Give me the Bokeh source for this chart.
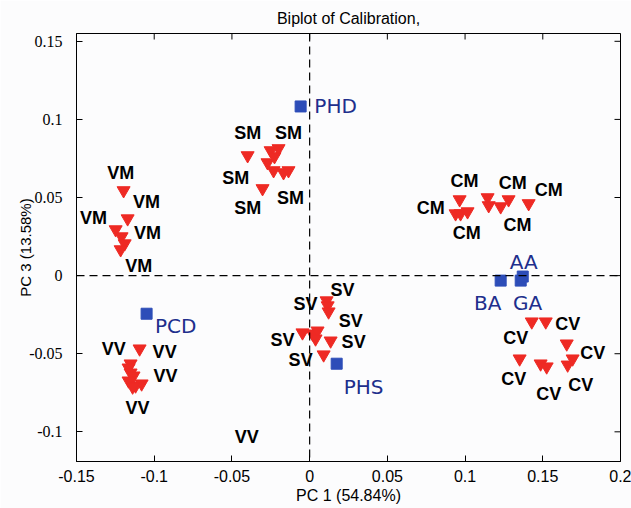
import math
from bokeh.plotting import figure
from bokeh.models import LinearAxis, FixedTicker, Span, ColumnDataSource, Range1d
from bokeh.core.properties import value
from bokeh.embed import file_html
from bokeh.resources import INLINE

# ---- data ----
vm_x = [-0.1197, -0.1171, -0.1248, -0.1210, -0.1190, -0.1216]
vm_y = [0.0545, 0.0365, 0.0295, 0.0250, 0.0205, 0.0167]
vm_lx = [-0.1216, -0.1049, -0.1390, -0.1043, -0.1100]
vm_ly = [0.0654, 0.0474, 0.0372, 0.0276, 0.0064]

sm_x = [-0.0399, -0.0251, -0.0200, -0.0271, -0.0232, -0.0168, -0.0136, -0.0303, -0.0226]
sm_y = [0.0769, 0.0801, 0.0814, 0.0724, 0.0673, 0.0660, 0.0673, 0.0558, 0.0763]
sm_lx = [-0.0399, -0.0136, -0.0476, -0.0123, -0.0399]
sm_ly = [0.0910, 0.0910, 0.0622, 0.0500, 0.0436]

cm_x = [0.0965, 0.0939, 0.0971, 0.1016, 0.1145, 0.1152, 0.1229, 0.1280, 0.1409]
cm_y = [0.0487, 0.0397, 0.0397, 0.0410, 0.0500, 0.0449, 0.0442, 0.0487, 0.0462]
cm_lx = [0.0997, 0.0779, 0.1010, 0.1306, 0.1538, 0.1338]
cm_ly = [0.0603, 0.0436, 0.0276, 0.0590, 0.0545, 0.0321]

cv_x = [0.1429, 0.1519, 0.1654, 0.1351, 0.1486, 0.1525, 0.1660, 0.1692]
cv_y = [-0.0295, -0.0295, -0.0436, -0.0532, -0.0564, -0.0583, -0.0571, -0.0532]
cv_lx = [0.1660, 0.1326, 0.1821, 0.1313, 0.1538, 0.1744]
cv_ly = [-0.0308, -0.0397, -0.0494, -0.0660, -0.0756, -0.0699]

sv_x = [0.0109, 0.0116, 0.0122, -0.0046, 0.0019, 0.0051, 0.0038, 0.0135, 0.0090]
sv_y = [-0.0160, -0.0192, -0.0231, -0.0365, -0.0372, -0.0353, -0.0404, -0.0417, -0.0506]
sv_lx = [0.0212, -0.0026, 0.0264, -0.0174, 0.0283, -0.0058]
sv_ly = [-0.0090, -0.0179, -0.0288, -0.0410, -0.0423, -0.0538]

vv_x = [-0.1094, -0.1152, -0.1165, -0.1152, -0.1133, -0.1165, -0.1120, -0.1081, -0.1139]
vv_y = [-0.0468, -0.0564, -0.0590, -0.0622, -0.0641, -0.0673, -0.0705, -0.0692, -0.0712]
vv_lx = [-0.1261, -0.0933, -0.0927, -0.1107, -0.0405]
vv_ly = [-0.0468, -0.0487, -0.0641, -0.0846, -0.1032]

var_names = ["PHD", "PCD", "PHS", "BA", "GA", "AA"]
var_x = [-0.0058, -0.1049, 0.0174, 0.1229, 0.1358, 0.1371]
var_y = [0.1083, -0.0244, -0.0564, -0.0032, -0.0032, -0.0006]
var_lx = [0.0167, -0.0862, 0.0347, 0.1145, 0.1403, 0.1377]
var_ly = [0.1083, -0.0321, -0.0712, -0.0173, -0.0173, 0.0090]

x_ticks = [-0.15, -0.1, -0.05, 0, 0.05, 0.1, 0.15, 0.2]
y_ticks = [-0.1, -0.05, 0, 0.05, 0.1, 0.15]
x_tick_labels = {-0.15: "-0.15", -0.1: "-0.1", -0.05: "-0.05", 0: "0", 0.05: "0.05",
                 0.1: "0.1", 0.15: "0.15", 0.2: "0.2"}
y_tick_labels = {-0.1: "-0.1", -0.05: "-0.05", 0: "0", 0.05: "0.05", 0.1: "0.1", 0.15: "0.15"}

x_lo, x_hi = -0.15, 0.2
y_lo, y_hi = -0.119, 0.155

title_text = "Biplot of Calibration,"
x_label = "PC 1 (54.84%)"
y_label = "PC 3 (13.58%)"

groups = [
    ("VM", vm_x, vm_y, vm_lx, vm_ly),
    ("SM", sm_x, sm_y, sm_lx, sm_ly),
    ("CM", cm_x, cm_y, cm_lx, cm_ly),
    ("CV", cv_x, cv_y, cv_lx, cv_ly),
    ("SV", sv_x, sv_y, sv_lx, sv_ly),
    ("VV", vv_x, vv_y, vv_lx, vv_ly),
]

FONT = "Liberation Sans"
NARROW = "Liberation Sans Narrow"
RED = "#ee2a24"
BLUE = "#2d4db8"
NAVY = "#202e8c"
BG = "#fcfcfd"

p = figure(width=631, height=508, output_backend="svg", toolbar_location=None,
           x_range=Range1d(x_lo, x_hi), y_range=Range1d(y_lo, y_hi),
           x_axis_location=None, y_axis_location=None,
           min_border_left=76, min_border_right=11, min_border_top=33, min_border_bottom=47,
           background_fill_color=BG, border_fill_color=BG)
p.grid.visible = False
p.outline_line_color = "black"
p.outline_line_width = 1

p.title.text = title_text
p.title.align = "center"
p.title.text_font = FONT
p.title.text_font_size = "16px"
p.title.text_font_style = "normal"
p.title.text_color = "black"
p.title.standoff = 14

def style_axis(ax, font, size):
    ax.major_tick_in = 6
    ax.major_tick_out = 0
    ax.minor_tick_line_color = None
    ax.axis_line_color = "black"
    ax.major_tick_line_color = "black"
    ax.major_label_text_font = font
    ax.major_label_text_font_size = size
    ax.major_label_text_color = "black"
    ax.axis_label_text_font = FONT
    ax.axis_label_text_font_style = "normal"
    ax.axis_label_text_color = "black"

xb = LinearAxis(ticker=FixedTicker(ticks=x_ticks), axis_label=x_label)
xb.major_label_overrides = x_tick_labels
style_axis(xb, FONT, "16px")
xb.axis_label_text_font_size = "16px"
xb.major_label_standoff = 8
xb.axis_label_standoff = 2
p.add_layout(xb, "below")

yl = LinearAxis(ticker=FixedTicker(ticks=y_ticks), axis_label=y_label)
yl.major_label_overrides = y_tick_labels
style_axis(yl, NARROW, "16px")
yl.axis_label_text_font_size = "15px"
yl.major_label_standoff = 14
yl.axis_label_standoff = -8
p.add_layout(yl, "left")

# inward ticks on the top and right edges of the box (clipped to the frame)
p.scatter(x_ticks, [y_hi] * len(x_ticks), marker="dash", size=12, angle=math.pi / 2,
          line_color="black", line_width=1)
p.scatter([x_hi] * len(y_ticks), y_ticks, marker="dash", size=12,
          line_color="black", line_width=1)

p.add_layout(Span(location=0, dimension="width", line_color="black", line_width=1.2, line_dash="8 5"))
p.add_layout(Span(location=0, dimension="height", line_color="black", line_width=1.2, line_dash="8 5"))

for name, xs, ys, lxs, lys in groups:
    p.scatter(xs, ys, marker="inverted_triangle", size=13, fill_color=RED, line_color=RED)
    src = ColumnDataSource(dict(x=lxs, y=lys, t=[name] * len(lxs)))
    p.text(x="x", y="y", text="t", source=src, text_font=value(FONT), text_font_size="18px",
           text_font_style="bold", text_color="black", text_align="center", text_baseline="middle")

p.scatter(var_x, var_y, marker="square", size=11, fill_color=BLUE, line_color=BLUE)
vsrc = ColumnDataSource(dict(x=var_lx, y=var_ly, t=var_names))
p.text(x="x", y="y", text="t", source=vsrc, text_font=value("DejaVu Sans"), text_font_size="20px",
       text_color=NAVY, text_align="center", text_baseline="middle")

open("out.html", "w").write(file_html(p, INLINE))
